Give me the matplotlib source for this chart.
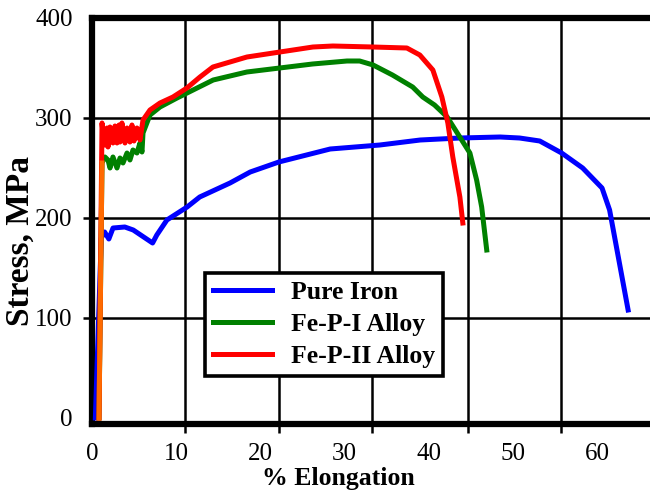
import matplotlib
matplotlib.use('Agg')
import matplotlib.pyplot as plt

plt.rcParams['font.family'] = ['Liberation Serif', 'DejaVu Serif']

# tensile curves (x in % elongation, y in MPa)
iron_x = [0.4, 1.1, 1.5, 2.0, 2.5, 3.9, 4.9, 7.2, 7.7, 8.9, 11.3, 12.8, 16.4,
          18.8, 22.2, 28.3, 34.2, 39.0, 43.7, 48.5, 50.8, 53.2, 55.8, 58.3,
          60.6, 61.5, 63.7]
iron_y = [0, 180, 186, 179, 190, 191, 188, 175, 183, 198, 211, 221, 235,
          246, 256, 269, 273, 278, 280, 281, 280, 277, 265, 250,
          230, 208, 108]

fep1_x = [0.83, 1.19, 1.54, 1.9, 2.14, 2.49, 2.97, 3.33, 3.68, 4.16, 4.51,
          4.87, 5.34, 5.70, 5.94, 6.06, 6.89, 8.08, 10.1, 14.4, 18.4, 22.3,
          26.2, 30.3, 31.8, 33.4, 35.7, 38.1, 39.3, 40.7, 42.2, 43.7, 44.9,
          45.7, 46.3, 46.9]
fep1_y = [0, 255, 261, 258, 250, 261, 250, 260, 255, 265, 258,
          268, 265, 275, 266, 285, 303, 311, 320, 338, 346, 350,
          354, 357, 357, 353, 343, 331, 321, 313, 301, 281, 265,
          238, 211, 168]

fep2_x = [0.83, 1.19, 1.31, 1.54, 1.78, 1.90, 2.14, 2.49, 2.73, 2.97, 3.21,
          3.33, 3.56, 3.92, 4.16, 4.51, 4.75, 4.99, 5.34, 5.70, 6.06, 6.89,
          8.08, 9.62, 11.28, 12.83, 14.37, 18.41, 22.33, 26.25, 28.62, 33.37,
          37.41, 38.95, 40.5, 41.57, 42.28, 42.87, 43.71, 44.06]
fep2_y = [0, 295, 285, 273, 290, 271, 291, 275, 292, 275, 293,
          276, 295, 275, 290, 276, 293, 277, 290, 278, 298, 308,
          315, 321, 330, 341, 351, 361, 366, 371, 372, 371,
          370, 363, 348, 321, 295, 261, 221, 195]

labels = ['Pure Iron', 'Fe-P-I Alloy', 'Fe-P-II Alloy']
x_ticks = [0, 10, 20, 30, 40, 50, 60]
y_ticks = [0, 100, 200, 300, 400]
# the grid in the original is not drawn on the labelled values
x_grid = [11.05, 22.2, 33.25, 44.66, 55.7]
y_grid = [100, 200, 300]

fig = plt.figure(figsize=(6.5, 4.93), dpi=100)
ax = fig.add_axes([92/650, 1 - 424/493, 1 - 92/650, (424 - 18)/493])

ax.plot(iron_x, iron_y, color='blue', lw=3.6, label=labels[0], zorder=3)
ax.plot(fep1_x, fep1_y, color='green', lw=3.6, label=labels[1], zorder=3)
ax.plot(fep2_x, fep2_y, color='red', lw=3.6, label=labels[2], zorder=3)
# shared elastic part shows up orange
ax.plot(fep1_x[:2], fep1_y[:2], color='#ff6a00', lw=3.6, zorder=4)

ax.set_xlim(0, 66.3)
ax.set_ylim(-6, 400)

ax.yaxis.remove_overlapping_locs = False
ax.set_xticks(x_ticks)
ax.set_yticks(y_ticks)
ax.set_xticks(x_grid, minor=True)
ax.set_yticks(y_grid, minor=True)
ax.tick_params(which='major', length=0, labelsize=18)
ax.tick_params(axis='x', which='major', pad=14)
ax.tick_params(axis='y', which='major', pad=14)
ax.tick_params(which='minor', direction='out', length=6.5, width=1.8)
ax.grid(which='minor', color='black', lw=1.8, zorder=1)

for side in ['left', 'top', 'bottom']:
    ax.spines[side].set_linewidth(4.5)
ax.spines['right'].set_visible(False)

ax.set_xlabel('% Elongation', fontsize=18.5, fontweight='bold')
ax.xaxis.set_label_coords(0.441, -0.105)
ax.set_ylabel('Stress, MPa', fontsize=24, fontweight='bold')
ax.yaxis.set_label_coords(-0.1, 0.451)

leg = ax.legend(loc='upper left', bbox_to_anchor=(0.2025, 0.372),
                borderaxespad=0, fancybox=False, framealpha=1,
                edgecolor='black', handlelength=2.3, handletextpad=0.75,
                labelspacing=0.36, borderpad=0.3,
                prop={'size': 18.5, 'weight': 'bold'})
leg.get_frame().set_linewidth(2.6)
leg.set_zorder(5)

plt.savefig('out.png')
